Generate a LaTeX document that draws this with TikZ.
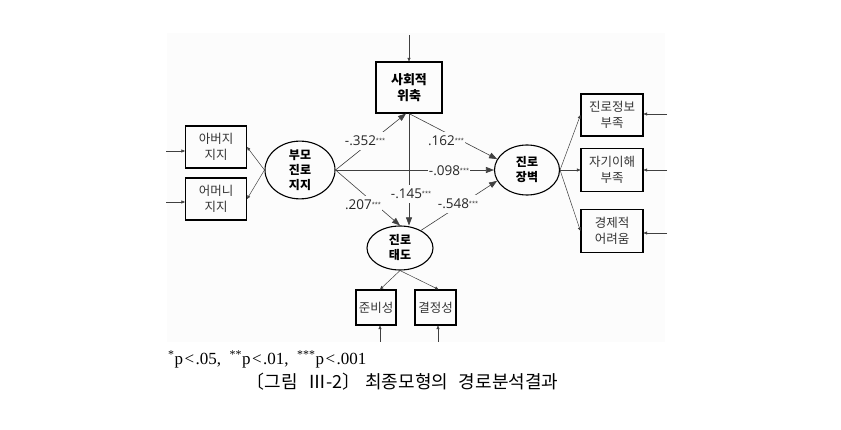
\documentclass[tikz,border=0pt]{standalone}
\usepackage{fontspec}
\setmainfont{Liberation Serif}
\newfontfamily\kr{Noto Sans CJK KR}
\newfontfamily\numf{Open Sans}
\usetikzlibrary{arrows.meta,shapes.geometric}
\definecolor{bgc}{RGB}{252,252,252}
\newcommand\sigstar{\raisebox{0.45ex}{\fontsize{5.5}{5.5}\selectfont ***}}
\begin{document}
\begin{tikzpicture}[x=1pt,y=-1pt,
  obs/.style={draw=black, line width=1.1pt, minimum width=61pt, minimum height=42pt, inner sep=0pt, align=center, font=\kr\fontsize{12.5}{16}\selectfont, text=black!80},
  lat/.style={draw=black, line width=1.1pt, ellipse, inner sep=0pt, align=center, font=\kr\bfseries\fontsize{12}{15}\selectfont},
  spath/.style={draw=black!75, line width=0.6pt, -{Triangle[length=8pt,width=6pt]}},
  ind/.style={draw=black!75, line width=0.5pt, -{Triangle[length=3.5pt,width=3pt]}},
  coef/.style={fill=bgc, inner xsep=1pt, inner ysep=4pt, font=\numf\fontsize{13.5}{13.5}\selectfont, text=black!85},
]
\useasboundingbox (0,0) rectangle (841,430);
\fill[bgc] (167,33) rectangle (665,342);

% nodes
\node[obs, minimum width=66pt, minimum height=51pt, font=\kr\bfseries\fontsize{13}{16}\selectfont, text=black] (sa) at (409,87.5) {사회적\\위축};
\node[obs] (fa) at (216,147) {아버지\\지지};
\node[obs] (mo) at (216,199) {어머니\\지지};
\node[lat, minimum width=70pt, minimum height=54pt] (pp) at (300,170) {부모\\진로\\지지};
\node[lat, minimum width=65pt, minimum height=50pt] (cb) at (527,170) {진로\\장벽};
\node[obs, minimum width=62pt] (r1) at (612,115) {진로정보\\부족};
\node[obs, minimum width=62pt, minimum height=43pt] (r2) at (612,170) {자기이해\\부족};
\node[obs, minimum width=62pt, minimum height=43pt] (r3) at (612,231) {경제적\\어려움};
\node[lat, minimum width=66pt, minimum height=44pt] (ca) at (400,248) {진로\\태도};
\node[obs, minimum width=40pt, minimum height=35pt] (b1) at (376,307.5) {준비성};
\node[obs, minimum width=41pt, minimum height=35pt] (b2) at (435.5,307.5) {결정성};

% error inputs
\coordinate (esa) at (409,35);
\coordinate (efa) at (166,151);
\coordinate (emo) at (166,202);
\coordinate (er1) at (667,114);
\coordinate (er2) at (667,170);
\coordinate (er3) at (667,233);
\coordinate (eb1) at (380,342);
\coordinate (eb2) at (438,342);
\draw[ind] (esa) -- (sa.north);
\draw[ind] (efa) -- (efa -| fa.west);
\draw[ind] (emo) -- (emo -| mo.west);
\draw[ind] (er1) -- (er1 -| r1.east);
\draw[ind] (er2) -- (er2 -| r2.east);
\draw[ind] (er3) -- (er3 -| r3.east);
\draw[ind] (eb1) -- (eb1 |- b1.south);
\draw[ind] (eb2) -- (eb2 |- b2.south);

% measurement paths
\draw[ind] (pp.west) -- (fa.east);
\draw[ind] (pp.west) -- (mo.east);
\draw[ind] (cb.east) -- (r1.west);
\draw[ind] (cb.east) -- (r2.west);
\draw[ind] (cb.east) -- (r3.west);
\draw[ind] (ca.south) -- ([xshift=4pt]b1.north);
\draw[ind] (ca.south) -- ([xshift=3pt]b2.north);

% structural paths
\draw[spath] (pp.east) -- ([xshift=-3pt]sa.south);
\draw[spath] (sa.south) -- (cb.160);
\draw[spath] (pp.east) -- (cb.west);
\draw[spath] (pp.east) -- (ca.north);
\draw[spath] (sa.south) -- (sa.south |- ca.north);
\draw[spath] (ca.40) -- (cb.200);

% coefficients
\node[coef] (k1) at (365,141) {-.352\sigstar};
\node[coef] (k2) at (446,141) {.162\sigstar};
\node[coef] (k3) at (449,171) {-.098\sigstar};
\node[coef] (k4) at (411,194) {-.145\sigstar};
\node[coef] (k5) at (363,205) {.207\sigstar};
\node[coef] (k6) at (458,204) {-.548\sigstar};

% footnote and caption
\node[anchor=base west, inner sep=0pt, font=\fontsize{17}{17}\selectfont] (fn) at (168,365) {\textsuperscript{*}p\kern1.5pt<\kern1.5pt.05,\ \ \textsuperscript{**}p\kern1.5pt<\kern1.5pt.01,\ \ \textsuperscript{***}p\kern1.5pt<\kern1.5pt.001};
\node[inner sep=0pt, font=\kr\fontsize{18}{18}\selectfont] (cap) at (402.5,382) {〔그림\hspace{0.6em}Ⅲ-2〕\hspace{0.25em}최종모형의\hspace{0.6em}경로분석결과};
\end{tikzpicture}
\end{document}
